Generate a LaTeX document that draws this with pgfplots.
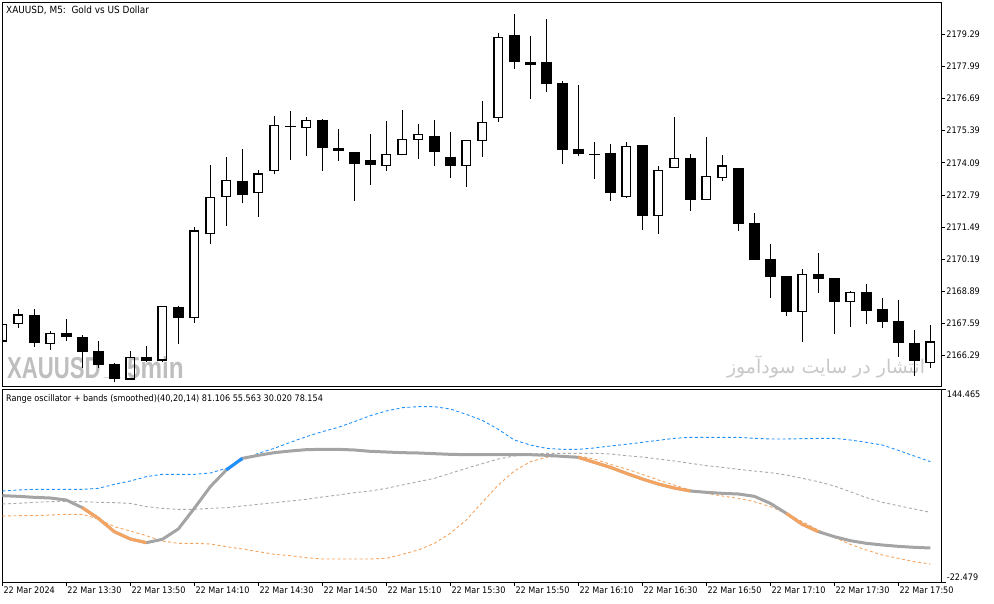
\documentclass[border=0pt]{standalone}
\usepackage{pgfplots}
\pgfplotsset{compat=1.18}
\usepackage{pgfplotstable}
\usepackage{graphicx}
\usepackage{fontspec}
\setmainfont{DejaVu Sans Condensed}
\newfontfamily\wmfont{Liberation Sans}
\newfontfamily\arabicfont[Script=Arabic]{DejaVu Sans}
\TeXXeTstate=1
\definecolor{upc}{HTML}{1E90FF}
\definecolor{loc}{HTML}{F4A460}
\definecolor{midc}{HTML}{A9A9A9}
\definecolor{oscc}{HTML}{A4A4A4}
\definecolor{wmc}{HTML}{BEBEBE}
\definecolor{wmc2}{HTML}{C8C8C8}
\pgfplotsset{nomk/.style={draw=none, mark=none, forget plot}}

\pgfplotstableread{
k o h l c
2 2167.935 2168.178 2166.653 2166.791
4 2167.219 2167.773 2166.896 2167.033
5 2167.045 2167.126 2165.791 2166.451
6 2166.479 2166.896 2165.791 2165.925
7 2165.953 2165.980 2165.213 2165.346
9 2166.224 2166.681 2166.046 2166.087
11 2168.271 2168.312 2166.750 2167.826
15 2173.344 2174.651 2172.454 2172.802
18 2175.590 2176.188 2174.218 2175.550
20 2175.824 2175.850 2173.773 2174.703
21 2174.691 2175.460 2174.177 2174.582
22 2174.517 2174.530 2172.559 2174.056
23 2174.206 2175.257 2173.206 2174.015
27 2175.176 2175.824 2173.975 2174.541
28 2174.327 2175.338 2173.490 2173.975
32 2179.262 2180.112 2177.887 2178.182
33 2178.170 2179.222 2176.685 2178.061
34 2178.170 2179.909 2176.968 2177.292
35 2177.320 2177.401 2174.056 2174.622
36 2174.651 2177.239 2174.355 2174.460
37 2174.456 2174.934 2173.437 2174.416
38 2174.477 2174.853 2172.559 2172.883
40 2174.812 2174.830 2171.386 2171.952
43 2174.274 2174.448 2172.155 2172.600
46 2173.882 2173.900 2171.345 2171.629
47 2171.657 2172.062 2170.160 2170.172
48 2170.201 2170.807 2168.635 2169.485
49 2169.513 2169.530 2167.907 2168.069
51 2169.594 2170.443 2168.825 2169.404
52 2169.432 2169.450 2167.179 2168.473
54 2168.866 2169.189 2167.571 2168.109
55 2168.178 2168.623 2167.422 2167.664
56 2167.693 2168.542 2166.248 2166.815
57 2166.815 2167.329 2165.480 2166.074
}\blackc

\pgfplotstableread{
k o h l c
0 2166.884 2167.600 2166.850 2167.559
1 2167.600 2168.178 2167.422 2167.935
3 2166.791 2167.288 2166.519 2167.195
8 2165.346 2166.491 2165.306 2166.224
10 2166.115 2168.312 2166.046 2168.271
12 2167.826 2171.483 2167.624 2171.333
13 2171.240 2174.003 2170.795 2172.697
14 2172.721 2174.339 2171.548 2173.384
16 2172.899 2173.801 2171.912 2173.639
17 2173.789 2175.985 2173.627 2175.609
19 2175.528 2175.945 2174.379 2175.812
24 2173.991 2175.783 2173.773 2174.436
25 2174.436 2176.228 2174.420 2175.043
26 2175.043 2175.662 2174.258 2175.245
29 2173.991 2175.020 2173.125 2175.002
30 2175.002 2176.592 2174.339 2175.731
31 2175.933 2179.343 2175.755 2179.169
39 2172.737 2174.934 2172.680 2174.760
41 2171.952 2173.963 2171.224 2173.789
42 2173.910 2175.945 2173.900 2174.274
44 2172.616 2175.136 2172.600 2173.546
45 2173.506 2174.408 2173.368 2173.963
50 2168.069 2169.808 2166.855 2169.582
53 2168.473 2168.906 2167.450 2168.854
58 2166.022 2167.531 2165.803 2166.843
}\whitec

\pgfplotstableread{
k up mid lo osc
0 56.36 45.10 34.70 52.32
1 57.22 45.67 34.99 51.74
2 57.80 46.54 34.99 50.87
3 57.80 47.12 35.57 50.29
4 57.80 47.41 36.14 48.56
5 57.80 47.12 36.14 41.92
6 58.67 46.54 32.10 32.68
7 62.13 46.25 25.46 21.13
8 65.02 45.67 21.70 14.77
9 68.78 42.79 17.66 11.60
10 70.80 41.34 13.04 14.48
11 70.80 40.47 11.02 23.44
12 70.80 40.47 11.02 41.34
13 71.95 41.34 10.44 60.11
14 75.99 41.92 8.13 74.55
15 83.21 43.36 6.11 84.66
16 88.99 44.81 3.80 87.26
17 93.32 46.25 1.49 89.57
18 98.52 47.69 0.33 91.01
19 103.43 49.14 -1.40 92.17
20 107.76 51.16 -2.55 92.46
21 111.51 52.89 -2.55 92.46
22 116.42 54.91 -2.55 91.88
23 121.62 56.36 -2.55 90.72
24 125.67 58.67 -1.98 90.15
25 128.55 61.56 1.49 89.57
26 129.42 64.44 5.24 89.28
27 129.42 67.33 11.02 88.70
28 127.40 71.66 19.68 88.12
29 122.78 75.99 31.23 87.83
30 117.58 80.04 46.54 87.83
31 109.78 84.08 61.56 87.83
32 100.54 86.68 73.68 87.83
33 96.21 88.41 81.77 87.83
34 93.32 88.99 85.52 87.26
35 92.46 88.99 86.68 86.39
36 92.46 88.99 86.68 85.52
37 93.61 88.99 84.08 81.19
38 95.34 88.41 79.46 76.86
39 96.79 86.97 75.42 71.66
40 98.52 85.81 70.80 66.75
41 100.25 84.08 65.89 62.42
42 101.99 82.35 61.56 58.96
43 102.85 80.33 57.22 56.36
44 102.85 78.31 54.34 55.20
45 102.85 76.86 52.03 54.34
46 102.85 75.13 50.00 53.76
47 101.99 73.68 47.12 51.74
48 101.41 72.24 42.79 45.67
49 101.41 70.22 37.01 37.01
50 101.70 67.33 29.79 27.48
51 101.99 64.44 22.57 21.13
52 101.99 60.69 16.22 16.80
53 100.54 55.78 10.15 13.33
54 98.52 50.58 5.24 11.02
55 96.21 46.54 0.91 9.58
56 91.59 43.65 -1.98 8.42
57 86.68 40.76 -4.86 7.55
58 81.77 37.88 -6.88 6.98
}\osc

\begin{document}
\begin{tikzpicture}
% watermarks (behind the candles)
\node[anchor=base west, inner sep=0, text=wmc] at (7pt,224.7pt) {\scalebox{0.73}[1]{\wmfont\bfseries\fontsize{30.3}{32}\selectfont XAUUSD}};
\node[anchor=base west, inner sep=0, text=wmc] at (104pt,226.5pt) {\scalebox{1}[0.5]{\wmfont\bfseries\fontsize{30.3}{32}\selectfont \_}};
\node[anchor=base west, inner sep=0, text=wmc] at (127pt,224.7pt) {\scalebox{0.8}[1]{\wmfont\bfseries\fontsize{30.3}{32}\selectfont 5min}};
\node[inner sep=0, text=wmc2] at (826pt,236pt) {\resizebox{198pt}{!}{\arabicfont\beginR انتشار در سایت سودآموز\endR}};

% price panel
\begin{axis}[
  at={(2.3pt,600.3pt)}, anchor=north west,
  scale only axis, width=939.4pt, height=384pt,
  xmin=0, xmax=58.7125, ymin=2165.035, ymax=2180.569,
  axis line style={line width=0.9pt},
  xtick=\empty,
  ytick={2166.29,2167.59,2168.89,2170.19,2171.49,2172.79,2174.09,2175.39,2176.69,2177.99,2179.29},
  yticklabels={2166.29,2167.59,2168.89,2170.19,2171.49,2172.79,2174.09,2175.39,2176.69,2177.99,2179.29},
  ytick pos=right, yticklabel pos=right,
  tick align=outside, major tick length=3.5pt,
  tick style={black, line width=0.9pt},
  yticklabel style={anchor=west, inner sep=1pt, font=\fontsize{9}{10}\selectfont},
]
% wicks of bearish candles (body covers the middle)
\addplot[nomk, error bars/.cd, y dir=plus, y explicit, error mark=none,
  error bar style={draw=black, line width=1.2pt}]
  table[x=k, y=l, y error plus expr={\thisrow{h}-\thisrow{l}}] {\blackc};
% wicks of bullish candles: upper and lower parts
\addplot[nomk, error bars/.cd, y dir=plus, y explicit, error mark=none,
  error bar style={draw=black, line width=1.2pt}]
  table[x=k, y=c, y error plus expr={\thisrow{h}-\thisrow{c}}] {\whitec};
\addplot[nomk, error bars/.cd, y dir=plus, y explicit, error mark=none,
  error bar style={draw=black, line width=1.2pt}]
  table[x=k, y=l, y error plus expr={\thisrow{o}-\thisrow{l}}] {\whitec};
% bearish bodies
\addplot[nomk, error bars/.cd, y dir=plus, y explicit, error mark=none,
  error bar style={draw=black, line width=10.5pt}]
  table[x=k, y=c, y error plus expr={\thisrow{o}-\thisrow{c}}] {\blackc};
% bullish bodies: hollow outlines
\addplot[nomk, error bars/.cd, y dir=plus, y explicit, error mark=none,
  error bar style={draw=black, line width=1.2pt}]
  table[x expr={\thisrow{k}-0.275}, y=o, y error plus expr={\thisrow{c}-\thisrow{o}}] {\whitec};
\addplot[nomk, error bars/.cd, y dir=plus, y explicit, error mark=none,
  error bar style={draw=black, line width=1.2pt}]
  table[x expr={\thisrow{k}+0.275}, y=o, y error plus expr={\thisrow{c}-\thisrow{o}}] {\whitec};
\addplot[nomk, error bars/.cd, x dir=both, x explicit, error mark=none,
  error bar style={draw=black, line width=1.2pt}]
  table[x=k, y=o, x error expr={0.3125}] {\whitec};
\addplot[nomk, error bars/.cd, x dir=both, x explicit, error mark=none,
  error bar style={draw=black, line width=1.2pt}]
  table[x=k, y=c, x error expr={0.3125}] {\whitec};
\end{axis}

% oscillator panel
\begin{axis}[
  at={(2.3pt,213.7pt)}, anchor=north west,
  scale only axis, width=939.4pt, height=192.7pt,
  xmin=0, xmax=58.7125, ymin=-22.479, ymax=144.465,
  axis line style={line width=0.9pt},
  xtick={0,4,8,12,16,20,24,28,32,36,40,44,48,52,56},
  xticklabels={22 Mar 2024,22 Mar 13:30,22 Mar 13:50,22 Mar 14:10,22 Mar 14:30,22 Mar 14:50,22 Mar 15:10,22 Mar 15:30,22 Mar 15:50,22 Mar 16:10,22 Mar 16:30,22 Mar 16:50,22 Mar 17:10,22 Mar 17:30,22 Mar 17:50},
  xtick pos=bottom, xticklabel pos=bottom,
  ytick={144.465}, yticklabels={144.465},
  extra y ticks={-22.479}, extra y tick labels={-22.479},
  extra y tick style={yticklabel style={anchor=south west}},
  ytick pos=right, yticklabel pos=right,
  tick align=outside, major tick length=4pt,
  tick style={black, line width=0.9pt},
  xticklabel style={anchor=north west, inner sep=1pt, font=\fontsize{9}{10}\selectfont},
  yticklabel style={anchor=north west, inner sep=1pt, font=\fontsize{9}{10}\selectfont},
]
\addplot[midc, line width=0.9pt, dash pattern=on 3pt off 2.5pt] table[x=k,y=mid]{\osc};
\addplot[loc, line width=0.9pt, dash pattern=on 3pt off 2.5pt] table[x=k,y=lo]{\osc};
\addplot[upc, line width=0.9pt, dash pattern=on 3pt off 2.5pt] table[x=k,y=up]{\osc};
\addplot[oscc, line width=3pt, line join=round] table[x=k,y=osc]{\osc};
\addplot[loc, line width=3pt, line join=round, restrict x to domain=5:9] table[x=k,y=osc]{\osc};
\addplot[loc, line width=3pt, line join=round, restrict x to domain=36:43] table[x=k,y=osc]{\osc};
\addplot[loc, line width=3pt, line join=round, restrict x to domain=49:51] table[x=k,y=osc]{\osc};
\addplot[upc, line width=3pt, line join=round, restrict x to domain=14:15] table[x=k,y=osc]{\osc};
\end{axis}

\node[anchor=west, inner sep=0] at (6pt,593pt) {\fontsize{9.9}{11}\selectfont XAUUSD, M5:\ \ Gold vs US Dollar};
\node[anchor=west, inner sep=0] at (6pt,204pt) {\fontsize{9}{10}\selectfont Range oscillator + bands (smoothed)(40,20,14) 81.106 55.563 30.020 78.154};
\pgfresetboundingbox
\path[use as bounding box] (0pt,0pt) rectangle (994pt,603pt);
\end{tikzpicture}
\end{document}
